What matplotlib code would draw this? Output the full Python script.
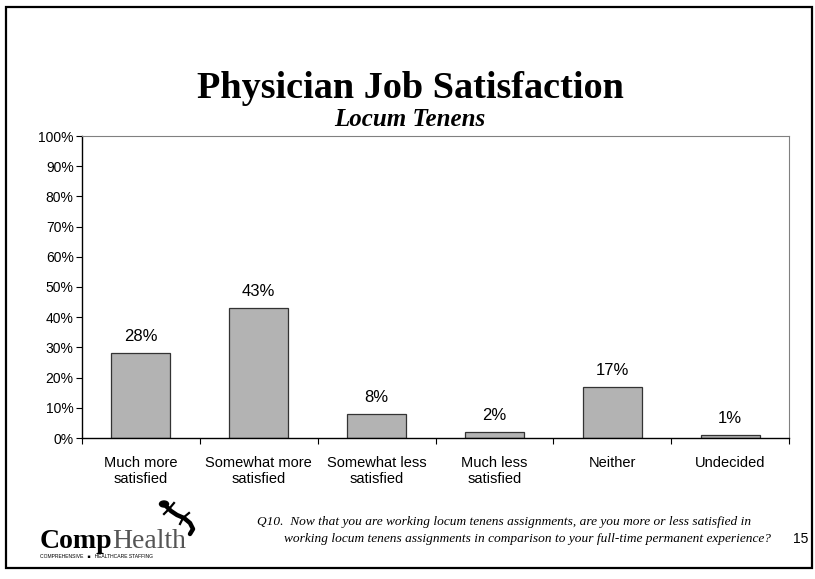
import matplotlib
matplotlib.use("Agg")
import matplotlib.pyplot as plt
from matplotlib.patches import Rectangle, Ellipse
from matplotlib.lines import Line2D
from matplotlib.ticker import PercentFormatter

categories = ["Much more\nsatisfied", "Somewhat more\nsatisfied", "Somewhat less\nsatisfied",
              "Much less\nsatisfied", "Neither", "Undecided"]
values = [28, 43, 8, 2, 17, 1]
yticks = [0, 10, 20, 30, 40, 50, 60, 70, 80, 90, 100]

W, H = 815, 579
fig = plt.figure(figsize=(W / 100, H / 100), dpi=100)

def px(xp, yp):
    # pixel position (from top-left) -> figure fraction
    return (xp / W, 1 - yp / H)

# page frame
fig.patches.append(Rectangle((6 / W, 11 / H), 806 / W, 561 / H, transform=fig.transFigure,
                             fill=False, edgecolor="black", linewidth=1.6))

# axes box: left 82, right 789, top 136, bottom 438 (pixels)
ax = fig.add_axes((82 / W, 1 - 438 / H, 707 / W, 302 / H))
x = list(range(len(values)))
ax.bar(x, values, width=0.5, color="#b3b3b3", edgecolor="#333333", linewidth=0.9)
for xi, v in zip(x, values):
    ax.text(xi, v + 3, "%d%%" % v, ha="center", va="bottom", fontsize=12,
            family="Liberation Sans")

ax.set_xlim(-0.5, len(values) - 0.5)
ax.set_ylim(0, 100)
ax.set_yticks(yticks)
ax.yaxis.set_major_formatter(PercentFormatter(decimals=0))
ax.set_xticks([i - 0.5 for i in range(len(values) + 1)])
ax.set_xticklabels([])
ax.set_xticks(x, minor=True)
ax.set_xticklabels(categories, minor=True, fontsize=10.5, family="Liberation Sans")
ax.tick_params(axis="x", which="minor", length=0, pad=13)
ax.tick_params(axis="x", which="major", length=4, direction="out", width=0.8)
ax.tick_params(axis="y", length=4, direction="out", labelsize=10, width=0.8, pad=2)
for lab in ax.get_yticklabels():
    lab.set_family("Liberation Sans")
ax.spines["left"].set_linewidth(1.0)
ax.spines["bottom"].set_linewidth(1.0)
ax.spines["top"].set_color("#808080")
ax.spines["right"].set_color("#808080")

fig.text(0.503, 1 - 89 / H, "Physician Job Satisfaction", ha="center", va="center",
         fontsize=27.5, fontweight="bold", family="Liberation Serif")
fig.text(0.503, 1 - 119 / H, "Locum Tenens", ha="center", va="center",
         fontsize=18, fontweight="bold", style="italic", family="Liberation Serif")

# logo text, "Health" placed right after "Comp"
comp = fig.text(40 / W, 1 - 548 / H, "Comp", ha="left", va="baseline", fontsize=20,
                fontweight="bold", family="Liberation Serif")
fig.canvas.draw()
bb = comp.get_window_extent(renderer=fig.canvas.get_renderer())
fig.text(bb.x1 / W, 1 - 548 / H, "Health", ha="left", va="baseline", fontsize=20,
         color="#555555", family="Liberation Serif")
fig.text(40 / W, 1 - 558 / H, "COMPREHENSIVE   \u25a0   HEALTHCARE STAFFING", ha="left",
         va="baseline", fontsize=3.6, family="Liberation Sans")

# rough gecko mark above and right of "Health"
body = [(166, 506), (171, 511), (177, 515), (184, 518), (190, 523), (193, 529), (190, 534)]
fig.lines.append(Line2D([px(*p)[0] for p in body], [px(*p)[1] for p in body],
                        transform=fig.transFigure, color="black", linewidth=3.2,
                        solid_capstyle="round"))
for leg in [((169, 509), (164, 514)), ((169, 509), (174, 503)),
            ((183, 518), (180, 524)), ((183, 518), (189, 513))]:
    fig.lines.append(Line2D([px(*leg[0])[0], px(*leg[1])[0]],
                            [px(*leg[0])[1], px(*leg[1])[1]],
                            transform=fig.transFigure, color="black", linewidth=1.6))
fig.patches.append(Ellipse(px(164, 504), 9 / W, 6 / H, transform=fig.transFigure,
                           color="black"))

# footnote
fig.text(257 / W, 1 - 522 / H,
         "Q10.  Now that you are working locum tenens assignments, are you more or less satisfied in",
         ha="left", va="center", fontsize=9.6, style="italic", family="Liberation Serif")
fig.text(284 / W, 1 - 539 / H,
         "working locum tenens assignments in comparison to your full-time permanent experience?",
         ha="left", va="center", fontsize=9.6, style="italic", family="Liberation Serif")
fig.text(808 / W, 1 - 539 / H, "15", ha="right", va="center", fontsize=10,
         family="Liberation Sans")

fig.savefig("out.png", dpi=100)
